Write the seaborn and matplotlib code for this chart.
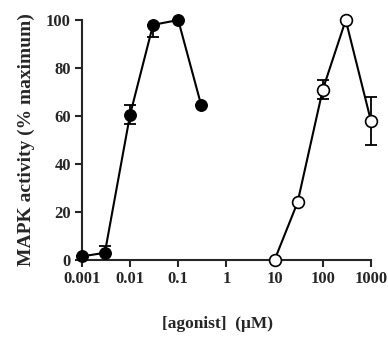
import numpy as np
import pandas as pd
import matplotlib
matplotlib.use("Agg")
import matplotlib.pyplot as plt
import seaborn as sns

# filled circles (first agonist)
conc_a = [0.001, 0.003, 0.01, 0.03, 0.1, 0.3]
act_a = [1.5, 3.0, 60.5, 98.0, 100.0, 64.5]
err_lo_a = [0.0, 3.0, 4.0, 5.0, 0.0, 0.0]
err_hi_a = [0.0, 3.0, 4.0, 0.0, 0.0, 0.0]

# open circles (second agonist)
conc_b = [10, 30, 100, 300, 1000]
act_b = [0.0, 24.0, 71.0, 100.0, 58.0]
err_b = [0.0, 0.0, 4.0, 0.0, 10.0]

x_ticks = [0.001, 0.01, 0.1, 1, 10, 100, 1000]
x_ticklabels = ["0.001", "0.01", "0.1", "1", "10", "100", "1000"]
y_ticks = [0, 20, 40, 60, 80, 100]

sns.set_style("ticks")
plt.rcParams['font.family'] = ['Liberation Serif', 'DejaVu Serif']
plt.rcParams['font.weight'] = 'bold'

df_a = pd.DataFrame({'conc': conc_a, 'act': act_a})
df_b = pd.DataFrame({'conc': conc_b, 'act': act_b})

fig = plt.figure(figsize=(3.88, 3.37), dpi=100)
ax = fig.add_axes([0.211, 0.2285, 0.745, 0.712])

# error bars first so the markers sit on top
ax.errorbar(conc_a, act_a, yerr=[err_lo_a, err_hi_a], fmt='none', ecolor='black',
            elinewidth=1.3, capsize=4, capthick=1.3, clip_on=False, zorder=2)
ax.errorbar(conc_b, act_b, yerr=err_b, fmt='none', ecolor='black',
            elinewidth=1.3, capsize=4, capthick=1.3, clip_on=False, zorder=2)

sns.lineplot(data=df_a, x='conc', y='act', ax=ax, color='black', linewidth=1.5,
             marker='o', markersize=8.5, markerfacecolor='black',
             markeredgecolor='black', clip_on=False, zorder=3)
sns.lineplot(data=df_b, x='conc', y='act', ax=ax, color='black', linewidth=1.5,
             marker='o', markersize=8.5, markerfacecolor='white',
             markeredgecolor='black', markeredgewidth=1.2, clip_on=False, zorder=3)

ax.set_xscale('log')
ax.set_xlim(0.001, 1000)
ax.set_ylim(0, 100)
ax.set_xticks(x_ticks)
ax.set_xticklabels(x_ticklabels)
ax.xaxis.set_minor_locator(matplotlib.ticker.NullLocator())
ax.set_yticks(y_ticks)

sns.despine(ax=ax)
for s in ['left', 'bottom']:
    ax.spines[s].set_linewidth(1.5)
ax.tick_params(axis='both', direction='out', length=5, width=1.5,
               labelsize=12, pad=3)
for lbl in ax.get_xticklabels() + ax.get_yticklabels():
    lbl.set_fontweight('bold')

ax.set_xlabel('[agonist]  (\u03bcM)', fontsize=12.5, fontweight='bold')
ax.xaxis.set_label_coords(0.47, -0.232)
ax.set_ylabel('MAPK activity (% maximum)', fontsize=14, fontweight='bold', labelpad=8)

fig.savefig('out.png', dpi=100)
